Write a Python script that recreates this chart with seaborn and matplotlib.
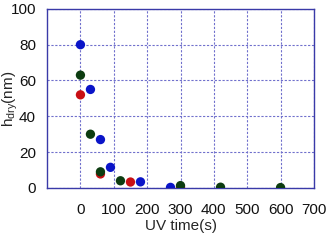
import pandas as pd
import matplotlib
matplotlib.use("Agg")
import matplotlib.pyplot as plt
import seaborn as sns

# data
blue_t = [0, 30, 60, 90, 180, 270]
blue_h = [80, 55, 27, 11.5, 3.4, 0.3]
red_t = [0, 60, 150, 300]
red_h = [52, 7.8, 3.3, 0.3]
green_t = [0, 30, 60, 120, 300, 420, 600]
green_h = [63, 30, 9, 4, 1.3, 0.4, 0.2]

df = pd.concat([
    pd.DataFrame({"t": blue_t, "h": blue_h, "set": "blue"}),
    pd.DataFrame({"t": red_t, "h": red_h, "set": "red"}),
    pd.DataFrame({"t": green_t, "h": green_h, "set": "green"}),
])
palette = {"blue": "#0a14c8", "red": "#c80f14", "green": "#0c3c10"}

sns.set_style("white")
plt.rcParams['font.family'] = ['Liberation Sans', 'DejaVu Sans']
plt.rcParams['mathtext.fontset'] = 'custom'
plt.rcParams['mathtext.rm'] = 'Liberation Sans'
plt.rcParams['mathtext.it'] = 'Liberation Sans'

fig = plt.figure(figsize=(3.27, 2.4), dpi=100)
ax = fig.add_axes([0.144, 0.217, 0.816, 0.746])

sns.scatterplot(data=df, x="t", y="h", hue="set", palette=palette, s=45,
                edgecolor="none", legend=False, ax=ax, zorder=3)

ax.set_xlim(-100, 700)
ax.set_ylim(0, 100)
ax.set_xticks(range(0, 701, 100))
ax.set_yticks(range(0, 101, 20))
ax.grid(True, color="#7070cc", linestyle=(0, (2, 1.5)), linewidth=0.8)
ax.set_axisbelow(True)
for s in ax.spines.values():
    s.set_color("#3a3aa8")
    s.set_linewidth(1.0)
ax.tick_params(axis="both", direction="in", length=3, color="#3a3aa8",
               labelsize=11, labelcolor="#111111")
ax.tick_params(axis="x", pad=11)
ax.tick_params(axis="y", pad=8)
ax.set_xlabel("UV time(s)", fontsize=11, labelpad=1)
ax.set_ylabel("h$_{dry}$(nm)", fontsize=11)
ax.yaxis.set_label_coords(-0.1, 0.5)

fig.savefig("out.png", dpi=100)
